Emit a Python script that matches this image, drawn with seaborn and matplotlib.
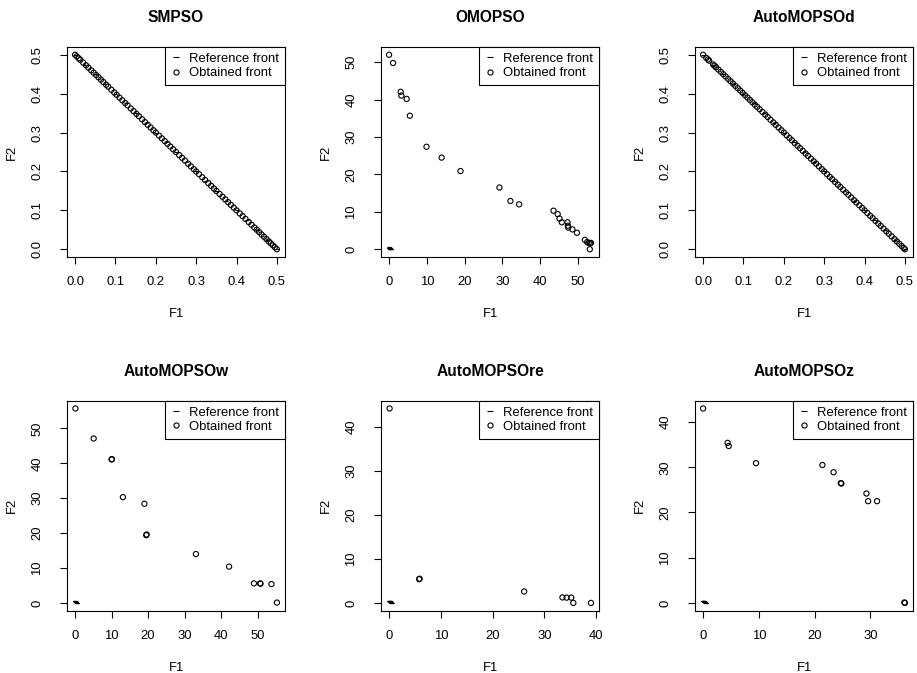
import matplotlib
matplotlib.use('Agg')
import matplotlib.pyplot as plt
from matplotlib.lines import Line2D
from matplotlib.ticker import MultipleLocator
import seaborn as sns
import pandas as pd

# Reference front (F1 + F2 = 0.5)
ref_f1 = [0.0, 0.025, 0.05, 0.075, 0.1, 0.125, 0.15, 0.175, 0.2, 0.225, 0.25,
          0.275, 0.3, 0.325, 0.35, 0.375, 0.4, 0.425, 0.45, 0.475, 0.5]
ref_f2 = [0.5, 0.475, 0.45, 0.425, 0.4, 0.375, 0.35, 0.325, 0.3, 0.275, 0.25,
          0.225, 0.2, 0.175, 0.15, 0.125, 0.1, 0.075, 0.05, 0.025, 0.0]

# Obtained fronts
smpso_f1 = [0.0, 0.004, 0.009, 0.013, 0.02, 0.027, 0.033, 0.04, 0.046, 0.052, 0.058,
            0.064, 0.07, 0.077, 0.082, 0.09, 0.097, 0.103, 0.11, 0.117, 0.124, 0.13,
            0.138, 0.145, 0.152, 0.158, 0.166, 0.173, 0.18, 0.187, 0.194, 0.2, 0.208,
            0.215, 0.222, 0.229, 0.236, 0.243, 0.25, 0.258, 0.265, 0.272, 0.28, 0.287,
            0.294, 0.3, 0.307, 0.315, 0.322, 0.33, 0.337, 0.344, 0.35, 0.358, 0.365,
            0.372, 0.379, 0.386, 0.393, 0.4, 0.408, 0.415, 0.422, 0.43, 0.437, 0.444,
            0.45, 0.456, 0.462, 0.468, 0.474, 0.48, 0.485, 0.49, 0.495, 0.5]
smpso_f2 = [0.5, 0.496, 0.491, 0.487, 0.48, 0.473, 0.467, 0.46, 0.454, 0.448, 0.442,
            0.436, 0.43, 0.423, 0.418, 0.41, 0.403, 0.397, 0.39, 0.383, 0.376, 0.37,
            0.362, 0.355, 0.348, 0.342, 0.334, 0.327, 0.32, 0.313, 0.306, 0.3, 0.292,
            0.285, 0.278, 0.271, 0.264, 0.257, 0.25, 0.242, 0.235, 0.228, 0.22, 0.213,
            0.206, 0.2, 0.193, 0.185, 0.178, 0.17, 0.163, 0.156, 0.15, 0.142, 0.135,
            0.128, 0.121, 0.114, 0.107, 0.1, 0.092, 0.085, 0.078, 0.07, 0.063, 0.056,
            0.05, 0.044, 0.038, 0.032, 0.026, 0.02, 0.015, 0.01, 0.005, 0.0]

omopso_f1 = [0.0, 1.05, 3.07, 3.25, 4.65, 5.5, 9.9, 13.9, 18.9, 29.2, 32.1, 34.4,
             43.5, 44.6, 45.1, 45.7, 47.2, 47.3, 47.4, 48.5, 49.7, 51.8, 52.4,
             52.8, 53.2, 53.4, 53.1]
omopso_f2 = [52.0, 49.8, 42.1, 41.1, 40.2, 35.7, 27.4, 24.5, 20.9, 16.5, 12.9, 12.0,
             10.3, 9.4, 8.2, 7.2, 7.2, 6.3, 5.8, 5.3, 4.4, 2.5, 1.9,
             1.7, 1.6, 1.7, 0.0]

d_f1 = [0.0, 0.008, 0.012, 0.015, 0.025, 0.028, 0.032, 0.038, 0.044, 0.05, 0.056,
        0.062, 0.068, 0.074, 0.08, 0.086, 0.092, 0.098, 0.104, 0.11, 0.116, 0.122,
        0.128, 0.134, 0.14, 0.147, 0.154, 0.16, 0.167, 0.174, 0.18, 0.187, 0.194,
        0.2, 0.207, 0.214, 0.22, 0.227, 0.234, 0.24, 0.247, 0.254, 0.26, 0.267,
        0.274, 0.28, 0.287, 0.294, 0.3, 0.307, 0.314, 0.32, 0.327, 0.334, 0.34,
        0.347, 0.354, 0.36, 0.367, 0.374, 0.38, 0.387, 0.394, 0.4, 0.407, 0.414,
        0.42, 0.427, 0.434, 0.44, 0.447, 0.454, 0.46, 0.467, 0.474, 0.48, 0.486,
        0.492, 0.497, 0.5]
d_f2 = [0.5, 0.492, 0.488, 0.485, 0.475, 0.472, 0.468, 0.462, 0.456, 0.45, 0.444,
        0.438, 0.432, 0.426, 0.42, 0.414, 0.408, 0.402, 0.396, 0.39, 0.384, 0.378,
        0.372, 0.366, 0.36, 0.353, 0.346, 0.34, 0.333, 0.326, 0.32, 0.313, 0.306,
        0.3, 0.293, 0.286, 0.28, 0.273, 0.266, 0.26, 0.253, 0.246, 0.24, 0.233,
        0.226, 0.22, 0.213, 0.206, 0.2, 0.193, 0.186, 0.18, 0.173, 0.166, 0.16,
        0.153, 0.146, 0.14, 0.133, 0.126, 0.12, 0.113, 0.106, 0.1, 0.093, 0.086,
        0.08, 0.073, 0.066, 0.06, 0.053, 0.046, 0.04, 0.033, 0.026, 0.02, 0.014,
        0.008, 0.003, 0.0]

w_f1 = [0.1, 5.1, 10.0, 10.1, 13.1, 19.0, 19.5, 19.6, 33.1, 42.2, 49.0, 50.7, 50.8, 53.8, 55.3]
w_f2 = [55.7, 47.1, 41.1, 41.2, 30.3, 28.4, 19.4, 19.6, 14.0, 10.4, 5.6, 5.6, 5.5, 5.4, 0.1]

re_f1 = [0.1, 5.8, 5.9, 26.1, 33.5, 34.3, 35.2, 35.6, 39.0]
re_f2 = [44.2, 5.4, 5.5, 2.6, 1.25, 1.2, 1.2, 0.0, 0.0]

z_f1 = [0.0, 4.4, 4.6, 9.5, 21.4, 23.4, 24.7, 24.8, 29.3, 29.6, 31.2, 36.1, 36.2]
z_f2 = [43.0, 35.4, 34.7, 30.9, 30.5, 28.9, 26.5, 26.4, 24.2, 22.5, 22.5, 0.1, 0.0]

titles = ['SMPSO', 'OMOPSO', 'AutoMOPSOd', 'AutoMOPSOw', 'AutoMOPSOre', 'AutoMOPSOz']
fronts = [(smpso_f1, smpso_f2), (omopso_f1, omopso_f2), (d_f1, d_f2),
          (w_f1, w_f2), (re_f1, re_f2), (z_f1, z_f2)]
steps = [0.1, 10, 0.1, 10, 10, 10]

sns.set_style('ticks')
plt.rcParams['font.family'] = ['Liberation Sans', 'DejaVu Sans']
plt.rcParams['text.color'] = 'black'
plt.rcParams['axes.labelcolor'] = 'black'
plt.rcParams['xtick.color'] = 'black'
plt.rcParams['ytick.color'] = 'black'
fs = 9.4

fig = plt.figure(figsize=(9.17, 6.73), dpi=100)
lefts = [67, 381, 695]
bottoms = [257, 610.7]
W, H = 218, 210

for i, title in enumerate(titles):
    r, c = divmod(i, 3)
    ax = fig.add_axes([lefts[c] / 917, 1 - bottoms[r] / 673, W / 917, H / 673])
    f1, f2 = fronts[i]
    ref = pd.DataFrame({'F1': ref_f1, 'F2': ref_f2})
    obt = pd.DataFrame({'F1': f1, 'F2': f2})
    sns.scatterplot(data=ref, x='F1', y='F2', marker='_', color='black', s=8,
                    linewidth=0.8, ax=ax, legend=False)
    sns.scatterplot(data=obt, x='F1', y='F2', marker='o', facecolor='none',
                    edgecolor='black', s=14, linewidth=0.8, ax=ax, legend=False)
    ax.margins(0.04)
    ax.xaxis.set_major_locator(MultipleLocator(steps[i]))
    ax.yaxis.set_major_locator(MultipleLocator(steps[i]))
    if steps[i] < 1:
        ax.xaxis.set_major_formatter(plt.FormatStrFormatter('%.1f'))
        ax.yaxis.set_major_formatter(plt.FormatStrFormatter('%.1f'))
    for s in ax.spines.values():
        s.set_visible(True)
        s.set_color('black')
        s.set_linewidth(0.8)
    ax.tick_params(axis='both', direction='out', length=5, width=0.8,
                   labelsize=fs, colors='black', labelcolor='black')
    ax.tick_params(axis='x', pad=9)
    ax.tick_params(axis='y', pad=12, labelrotation=90)
    for lab in ax.get_yticklabels():
        lab.set_va('center')
    ax.set_xlabel('F1', fontsize=fs, labelpad=14, color='black')
    ax.set_ylabel('F2', fontsize=fs, labelpad=10, color='black')
    ax.set_title(title, fontsize=11.2, fontweight='bold', pad=18, color='black')

    handles = [Line2D([], [], marker='_', ls='none', color='black', ms=5, mew=0.8),
               Line2D([], [], marker='o', ls='none', mfc='none', mec='black', ms=3.7, mew=0.8)]
    leg = ax.legend(handles, ['Reference front', 'Obtained front'], loc='upper right',
                    borderaxespad=0, fancybox=False, edgecolor='black', framealpha=1,
                    fontsize=fs, handlelength=0.8, handletextpad=0.6, borderpad=0.45,
                    labelspacing=0.15)
    leg.get_frame().set_linewidth(0.8)
    for t in leg.get_texts():
        t.set_color('black')

fig.savefig('out.png', dpi=100)
